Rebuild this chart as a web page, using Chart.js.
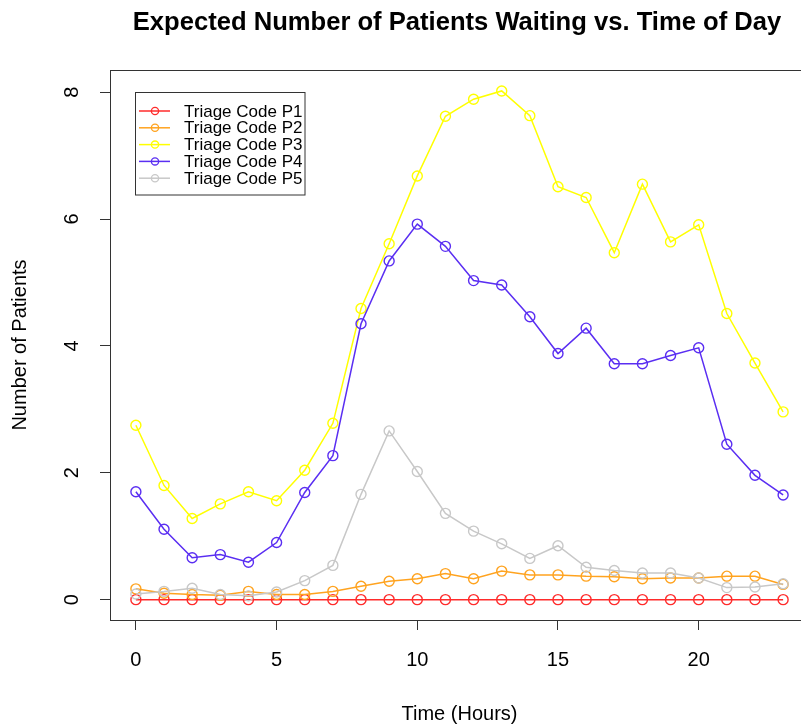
<!DOCTYPE html>
<html>
<head>
<meta charset="utf-8">
<script src="https://cdn.jsdelivr.net/npm/chart.js@4/dist/chart.umd.min.js"></script>
<style>
  html, body { margin: 0; padding: 0; background: #fff; overflow: hidden; width: 801px; height: 726px; }
  canvas { display: block; }
</style>
</head>
<body>
<canvas id="chart" width="820" height="726" style="width:820px;height:726px"></canvas>
<script>
// Hour of day (0-23)
const hours = [0, 1, 2, 3, 4, 5, 6, 7, 8, 9, 10, 11, 12, 13, 14, 15, 16, 17, 18, 19, 20, 21, 22, 23];

// Expected number of patients waiting, by triage code
const triageP1 = [0, 0, 0, 0, 0, 0, 0, 0, 0, 0, 0, 0, 0, 0, 0, 0, 0, 0, 0, 0, 0, 0, 0, 0];
const triageP2 = [0.17, 0.10, 0.08, 0.07, 0.13, 0.08, 0.08, 0.13, 0.21, 0.29, 0.33, 0.41,
                  0.33, 0.45, 0.39, 0.39, 0.37, 0.36, 0.33, 0.34, 0.34, 0.37, 0.37, 0.24];
const triageP3 = [2.75, 1.80, 1.28, 1.51, 1.70, 1.56, 2.04, 2.78, 4.59, 5.61, 6.68, 7.62,
                  7.89, 8.02, 7.63, 6.51, 6.34, 5.47, 6.55, 5.64, 5.91, 4.51, 3.73, 2.96];
const triageP4 = [1.70, 1.11, 0.66, 0.71, 0.59, 0.90, 1.69, 2.27, 4.35, 5.34, 5.92, 5.57,
                  5.03, 4.96, 4.46, 3.88, 4.28, 3.72, 3.72, 3.85, 3.97, 2.45, 1.96, 1.65];
const triageP5 = [0.09, 0.13, 0.18, 0.08, 0.06, 0.12, 0.30, 0.54, 1.66, 2.66, 2.02, 1.36,
                  1.08, 0.88, 0.65, 0.85, 0.51, 0.46, 0.42, 0.42, 0.34, 0.19, 0.20, 0.25];

const seriesLabels = ['Triage Code P1', 'Triage Code P2', 'Triage Code P3', 'Triage Code P4', 'Triage Code P5'];
const seriesColors = ['#ff2b2b', '#ffa31f', '#ffff00', '#5a2ef2', '#c8c8c8'];

// Axis tick labels
const xTickValues = [0, 5, 10, 15, 20];
const yTickValues = [0, 2, 4, 6, 8];

const chartTitle = 'Expected Number of Patients Waiting vs. Time of Day';
const FONT = '"Liberation Sans", Arial, Helvetica, sans-serif';
const AXIS_COLOR = '#333333';

const seriesValues = [triageP1, triageP2, triageP3, triageP4, triageP5];
const datasets = seriesValues.map((vals, i) => ({
  label: seriesLabels[i],
  data: vals.map((v, k) => ({ x: hours[k], y: v })),
  borderColor: seriesColors[i],
  backgroundColor: 'rgba(0,0,0,0)',
  pointBorderColor: seriesColors[i],
  pointBackgroundColor: 'rgba(0,0,0,0)',
  borderWidth: 1.5,
  pointRadius: 5,
  pointBorderWidth: 1.4,
  pointHoverRadius: 5,
  tension: 0,
  fill: false,
  order: seriesValues.length - i
}));

// Plot frame, title and in-plot legend
const decorations = {
  id: 'decorations',
  afterDatasetsDraw(chart) {
    const { ctx, chartArea } = chart;
    ctx.save();
    // frame around the plotting region
    ctx.strokeStyle = AXIS_COLOR;
    ctx.lineWidth = 1;
    ctx.strokeRect(Math.round(chartArea.left) + 0.5, Math.round(chartArea.top) + 0.5,
                   Math.round(chartArea.right - chartArea.left), Math.round(chartArea.bottom - chartArea.top));

    // legend box
    const bx = 135.5, by = 92.5, bw = 169.5, bh = 102.5;
    ctx.fillStyle = '#ffffff';
    ctx.fillRect(bx, by, bw, bh);
    ctx.strokeRect(bx, by, bw, bh);
    const rowTop = 111, rowStep = 16.8;
    chart.data.datasets.forEach((ds, i) => {
      const y = rowTop + i * rowStep;
      ctx.strokeStyle = ds.borderColor;
      ctx.lineWidth = 1.5;
      ctx.beginPath();
      ctx.moveTo(139, y);
      ctx.lineTo(170, y);
      ctx.stroke();
      ctx.lineWidth = 1.3;
      ctx.beginPath();
      ctx.arc(155, y, 3.6, 0, Math.PI * 2);
      ctx.stroke();
      ctx.fillStyle = '#000';
      ctx.font = '17px ' + FONT;
      ctx.textAlign = 'left';
      ctx.textBaseline = 'middle';
      ctx.fillText(ds.label, 184, y + 1);
    });
    ctx.restore();
  },
  afterDraw(chart) {
    const { ctx } = chart;
    ctx.save();
    ctx.fillStyle = '#000';
    ctx.font = 'bold 25.6px ' + FONT;
    ctx.textAlign = 'center';
    ctx.textBaseline = 'alphabetic';
    ctx.fillText(chartTitle, 457, 30);
    ctx.restore();
  }
};

new Chart(document.getElementById('chart'), {
  type: 'line',
  data: { datasets },
  options: {
    responsive: false,
    animation: false,
    devicePixelRatio: 1,
    layout: { padding: { top: 70, right: 11, left: 0, bottom: 0 } },
    plugins: {
      legend: { display: false },
      title: { display: false },
      tooltip: { enabled: false }
    },
    events: [],
    scales: {
      x: {
        type: 'linear',
        min: -0.92,
        max: 23.92,
        afterBuildTicks: s => { s.ticks = xTickValues.map(v => ({ value: v })); },
        afterFit: s => { s.height = 106; },
        grid: { drawOnChartArea: false, drawTicks: true, tickLength: 10, color: AXIS_COLOR, lineWidth: 1 },
        border: { display: true, color: AXIS_COLOR, width: 1 },
        ticks: { color: '#000', font: { family: FONT, size: 20 }, padding: 18, maxRotation: 0, minRotation: 0 },
        title: { display: true, text: 'Time (Hours)', color: '#000', font: { family: FONT, size: 20 }, padding: { top: 4, bottom: 0 } }
      },
      y: {
        type: 'linear',
        min: -0.321,
        max: 8.35,
        afterBuildTicks: s => { s.ticks = yTickValues.map(v => ({ value: v })); },
        afterFit: s => { s.width = 110; },
        grid: { drawOnChartArea: false, drawTicks: true, tickLength: 10, color: AXIS_COLOR, lineWidth: 1 },
        border: { display: true, color: AXIS_COLOR, width: 1 },
        ticks: { color: '#000', font: { family: FONT, size: 20 }, padding: 22, minRotation: 90, maxRotation: 90, crossAlign: 'center' },
        title: { display: true, text: 'Number of Patients', color: '#000', font: { family: FONT, size: 20 }, padding: { top: 8, bottom: 0 } }
      }
    }
  },
  plugins: [decorations]
});
</script>
</body>
</html>
